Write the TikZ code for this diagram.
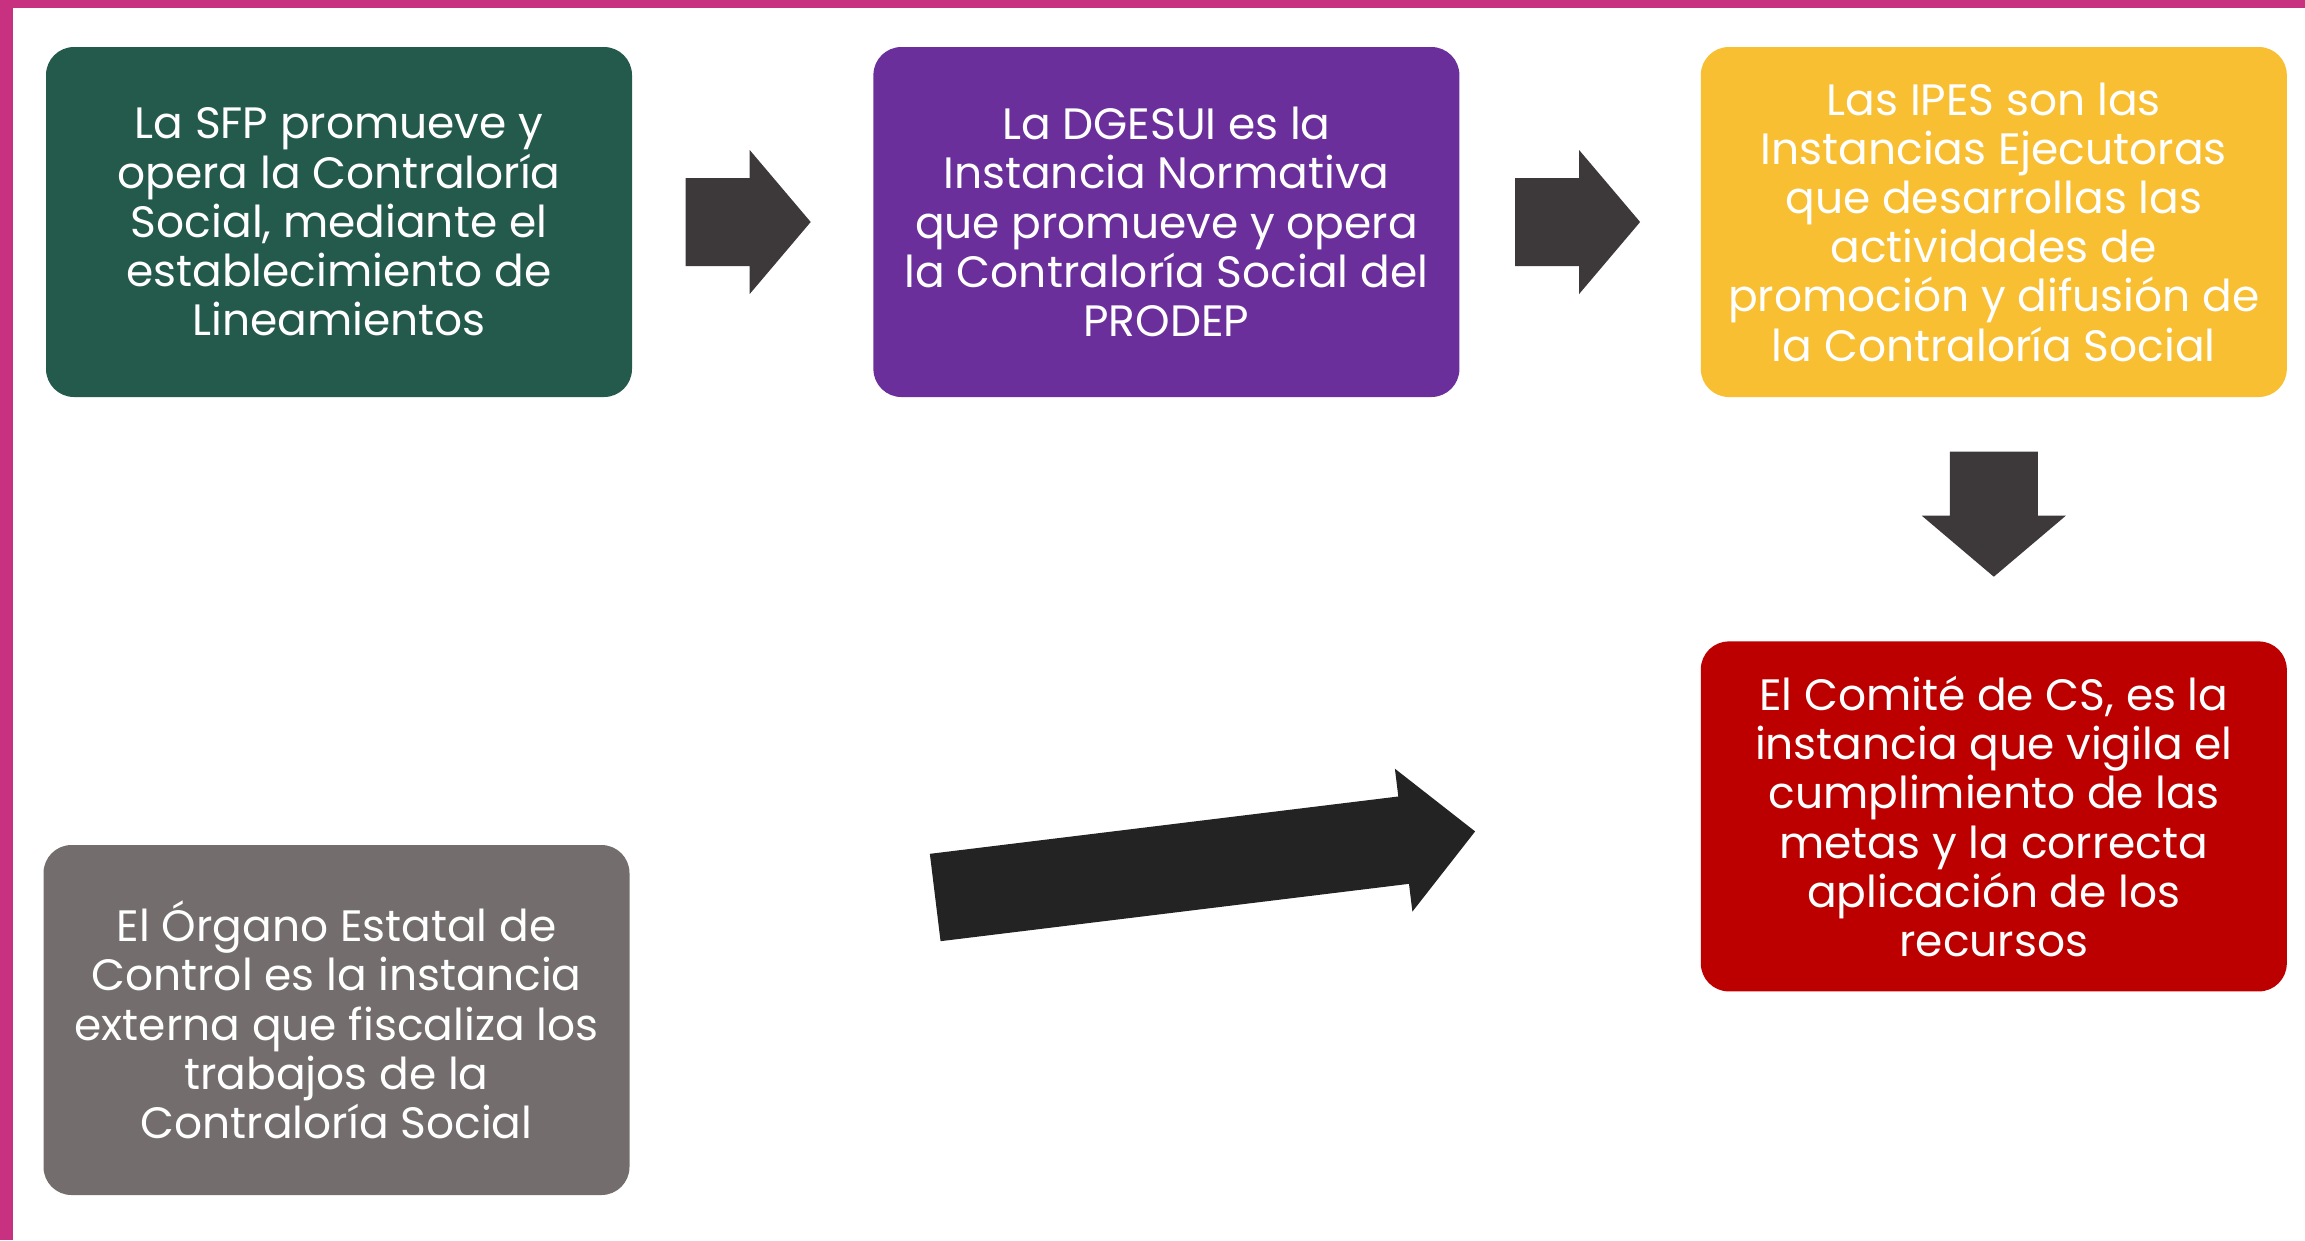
\documentclass[tikz,border=0pt]{standalone}
\usepackage{fontspec}
\setmainfont{Poppins}
\usepackage{xcolor}
\usepackage{tikz}
\usetikzlibrary{positioning, calc}

\definecolor{marco}{HTML}{C8317F}
\definecolor{verdeSFP}{HTML}{245A4C}
\definecolor{moradoDGESUI}{HTML}{6B2F9B}
\definecolor{amarilloIPES}{HTML}{F9BF33}
\definecolor{rojoComite}{HTML}{BC0000}
\definecolor{grisOrgano}{HTML}{736E6D}
\definecolor{flechaGris}{HTML}{3D3839}
\definecolor{flechaNegra}{HTML}{232323}

% flecha de bloque: [largo de punta]{color}{inicio}{fin}
\newcommand{\flechabloque}[4][0.61cm]{%
	\coordinate (fb) at ($(#4)!#1!(#3)$);
	\fill[#2] ($(#3)!0.44cm!90:(#4)$) -- ($(fb)!0.44cm!90:(#4)$) -- ($(fb)!0.72cm!90:(#4)$) -- (#4)
	-- ($(fb)!0.72cm!-90:(#4)$) -- ($(fb)!0.44cm!-90:(#4)$) -- ($(#3)!0.44cm!-90:(#4)$) -- cycle;
}

\begin{document}
\begin{tikzpicture}[
		caja/.style={rectangle, rounded corners=0.28cm, minimum width=5.86cm, minimum height=3.5cm, inner sep=0pt}, % Cajas del esquema
		texto/.style={text=white, align=center, font=\fontsize{12.5}{14}\selectfont}, % Texto blanco centrado
		node distance=2.4cm % Separacion entre cajas
		]
		\useasboundingbox (0,0) rectangle (23.05,-12.40);
		% Marco rosa
		\fill[marco] (0,0) rectangle (23.05,-0.08);
		\fill[marco] (0,0) rectangle (0.13,-12.40);
		
		% Fila superior
		\node[caja, texto, fill=verdeSFP] (sfp) at (3.39,-2.22) {La SFP promueve y\\opera la Contraloría\\Social, mediante el\\establecimiento de\\Lineamientos};
		\node[caja, texto, fill=moradoDGESUI, right=2.4cm of sfp] (dgesui) {La DGESUI es la\\Instancia Normativa\\que promueve y opera\\la Contraloría Social del\\PRODEP};
		\node[caja, texto, fill=amarilloIPES, right=2.4cm of dgesui] (ipes) {Las IPES son las\\Instancias Ejecutoras\\que desarrollas las\\actividades de\\promoción y difusión de\\la Contraloría Social};
		% Comite y Organo
		\node[caja, texto, fill=rojoComite, below=2.43cm of ipes] (comite) {El Comité de CS, es la\\instancia que vigila el\\cumplimiento de las\\metas y la correcta\\aplicación de los\\recursos};
		\node[caja, texto, fill=grisOrgano] (organo) at (3.365,-10.20) {El Órgano Estatal de\\Control es la instancia\\externa que fiscaliza los\\trabajos de la\\Contraloría Social};
		
		% Flechas
		\coordinate (f1a) at ($(sfp.east)+(0.53,0)$);
		\coordinate (f1b) at ($(dgesui.west)+(-0.62,0)$);
		\coordinate (f2a) at ($(dgesui.east)+(0.55,0)$);
		\coordinate (f2b) at ($(ipes.west)+(-0.60,0)$);
		\coordinate (f3a) at ($(ipes.south)+(0,-0.54)$);
		\coordinate (f3b) at ($(comite.north)+(0,0.64)$);
		\coordinate (f4a) at ($(organo.east)+(3.05,1.225)$);
		\coordinate (f4b) at ($(comite.west)+(-2.25,-0.15)$);
		\flechabloque{flechaGris}{f1a}{f1b}
		\flechabloque{flechaGris}{f2a}{f2b}
		\flechabloque{flechaGris}{f3a}{f3b}
		\flechabloque[0.72cm]{flechaNegra}{f4a}{f4b}
	\end{tikzpicture}
\end{document}
